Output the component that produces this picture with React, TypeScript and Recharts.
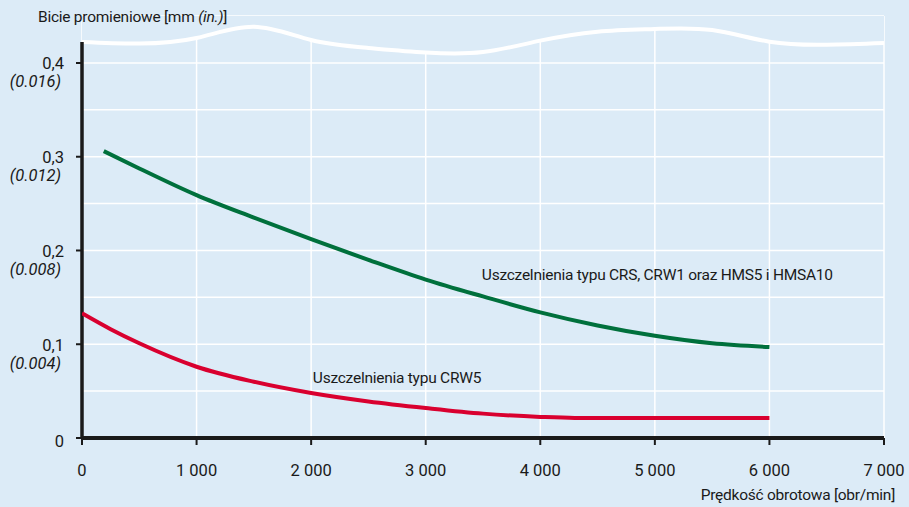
import {
  Area,
  CartesianGrid,
  ComposedChart,
  Line,
  ReferenceDot,
  ReferenceLine,
  XAxis,
  YAxis,
} from "recharts";

// prędkość [obr/min] i bicie [mm]
const greenSpeeds = [190, 500, 1000, 1500, 2000, 2500, 3000, 3500, 4000, 4500, 5000, 5500, 6000];
const greenRunout = [0.306, 0.2875, 0.259, 0.235, 0.212, 0.19, 0.169, 0.151, 0.134, 0.12, 0.109, 0.101, 0.097];

const redSpeeds = [0, 250, 500, 1000, 1500, 2000, 2500, 3000, 3500, 4000, 4300, 5000, 6000];
const redRunout = [0.133, 0.116, 0.101, 0.076, 0.06, 0.048, 0.039, 0.032, 0.026, 0.0225, 0.0214, 0.0213, 0.0213];

// przerwa osi (falista linia u góry)
const breakSpeeds = [0, 500, 1000, 1500, 2000, 2500, 3000, 3500, 4000, 4500, 5000, 5500, 6000, 6500, 7000];
const breakLevel = [0.4224, 0.4208, 0.4267, 0.4386, 0.4245, 0.416, 0.4112, 0.4117, 0.4238, 0.4334, 0.4363, 0.4352, 0.4227, 0.4195, 0.4213];

const xTicks = [0, 1000, 2000, 3000, 4000, 5000, 6000, 7000];
const xTickLabels = ["0", "1 000", "2 000", "3 000", "4 000", "5 000", "6 000", "7 000"];
const yTicks = [0, 0.05, 0.1, 0.15, 0.2, 0.25, 0.3, 0.35, 0.4];
const mmLabels = ["0", "0,1", "0,2", "0,3", "0,4"];
const inchLabels = ["", "(0.004)", "(0.008)", "(0.012)", "(0.016)"];

const Y_TOP = 0.45;

const greenData = greenSpeeds.map((x, i) => ({ x, y: greenRunout[i] }));
const redData = redSpeeds.map((x, i) => ({ x, y: redRunout[i] }));
const breakData = breakSpeeds.map((x, i) => ({ x, y: breakLevel[i], range: [breakLevel[i], Y_TOP] }));

const BG = "#dcebf7";
const INK = "#1a1a1a";
const GREEN = "#00703c";
const RED = "#d9002f";
const FONT = "Roboto, sans-serif";

function YTick(props: any) {
  const { x, y, payload } = props;
  const v = payload.value as number;
  const step = Math.round(v * 100);
  if (step % 10 !== 0) return null;
  const idx = step / 10;
  return (
    <g>
      <line x1={x - 6} x2={x} y1={y} y2={y} stroke={INK} strokeWidth={2} />
      <text x={x - 18} y={idx === 0 ? y + 3 : y + 1} textAnchor="end" dominantBaseline="central" fontSize={16.5} fill={INK} fontFamily={FONT}>
        {mmLabels[idx]}
      </text>
      {inchLabels[idx] && (
        <text x={x - 21} y={y + 19} textAnchor="end" dominantBaseline="central" fontSize={16.5} fontStyle="italic" fill={INK} fontFamily={FONT}>
          {inchLabels[idx]}
        </text>
      )}
    </g>
  );
}

function seriesLabel(text: string) {
  return (props: any) => (
    <text x={props.cx} y={props.cy} dominantBaseline="central" fontSize={15.5} letterSpacing={-0.25} fill={INK} fontFamily={FONT}>
      {text}
    </text>
  );
}

export default function App() {
  return (
    <div style={{ position: "absolute", left: 0, top: 0, width: 909, height: 507, background: BG, fontFamily: FONT, color: INK }}>
      <ComposedChart width={909} height={507} margin={{ top: 16.1, right: 25, bottom: 29, left: 0 }}>
        <CartesianGrid stroke="#ffffff" strokeWidth={1.5} />
        <XAxis
          dataKey="x"
          type="number"
          domain={[0, 7000]}
          ticks={xTicks}
          tickFormatter={(v) => xTickLabels[xTicks.indexOf(v)]}
          height={40}
          axisLine={{ stroke: INK, strokeWidth: 4 }}
          tickLine={{ stroke: INK, strokeWidth: 2 }}
          tickSize={7}
          tickMargin={19}
          tick={{ fill: INK, fontSize: 16.5, fontFamily: FONT }}
          allowDataOverflow
        />
        <YAxis
          type="number"
          domain={[0, Y_TOP]}
          ticks={yTicks}
          width={82}
          axisLine={false}
          tickLine={false}
          tickSize={0}
          tickMargin={0}
          tick={<YTick />}
          allowDataOverflow
        />
        <Area
          data={breakData}
          dataKey="range"
          type="natural"
          fill={BG}
          fillOpacity={1}
          stroke="none"
          isAnimationActive={false}
        />
        <Line data={breakData} dataKey="y" type="natural" stroke="#ffffff" strokeWidth={4} dot={false} isAnimationActive={false} />
        <ReferenceLine
          segment={[
            { x: 0, y: 0 },
            { x: 0, y: breakLevel[0] },
          ]}
          stroke={INK}
          strokeWidth={3.5}
          ifOverflow="visible"
        />
        <Line data={greenData} dataKey="y" type="monotone" stroke={GREEN} strokeWidth={4} dot={false} isAnimationActive={false} />
        <Line data={redData} dataKey="y" type="monotone" stroke={RED} strokeWidth={4} dot={false} isAnimationActive={false} />
        <ReferenceDot x={3490} y={0.174} r={0} shape={seriesLabel("Uszczelnienia typu CRS, CRW1 oraz HMS5 i HMSA10")} />
        <ReferenceDot x={2015} y={0.064} r={0} shape={seriesLabel("Uszczelnienia typu CRW5")} />
      </ComposedChart>
      <div style={{ position: "absolute", left: 38, top: 7, fontSize: 15.5, letterSpacing: -0.25, lineHeight: "20px", whiteSpace: "nowrap" }}>
        Bicie promieniowe [mm <i>(in.)</i>]
      </div>
      <div style={{ position: "absolute", right: 14, top: 485, fontSize: 15.5, letterSpacing: -0.25, lineHeight: "20px", whiteSpace: "nowrap" }}>
        Prędkość obrotowa [obr/min]
      </div>
    </div>
  );
}
